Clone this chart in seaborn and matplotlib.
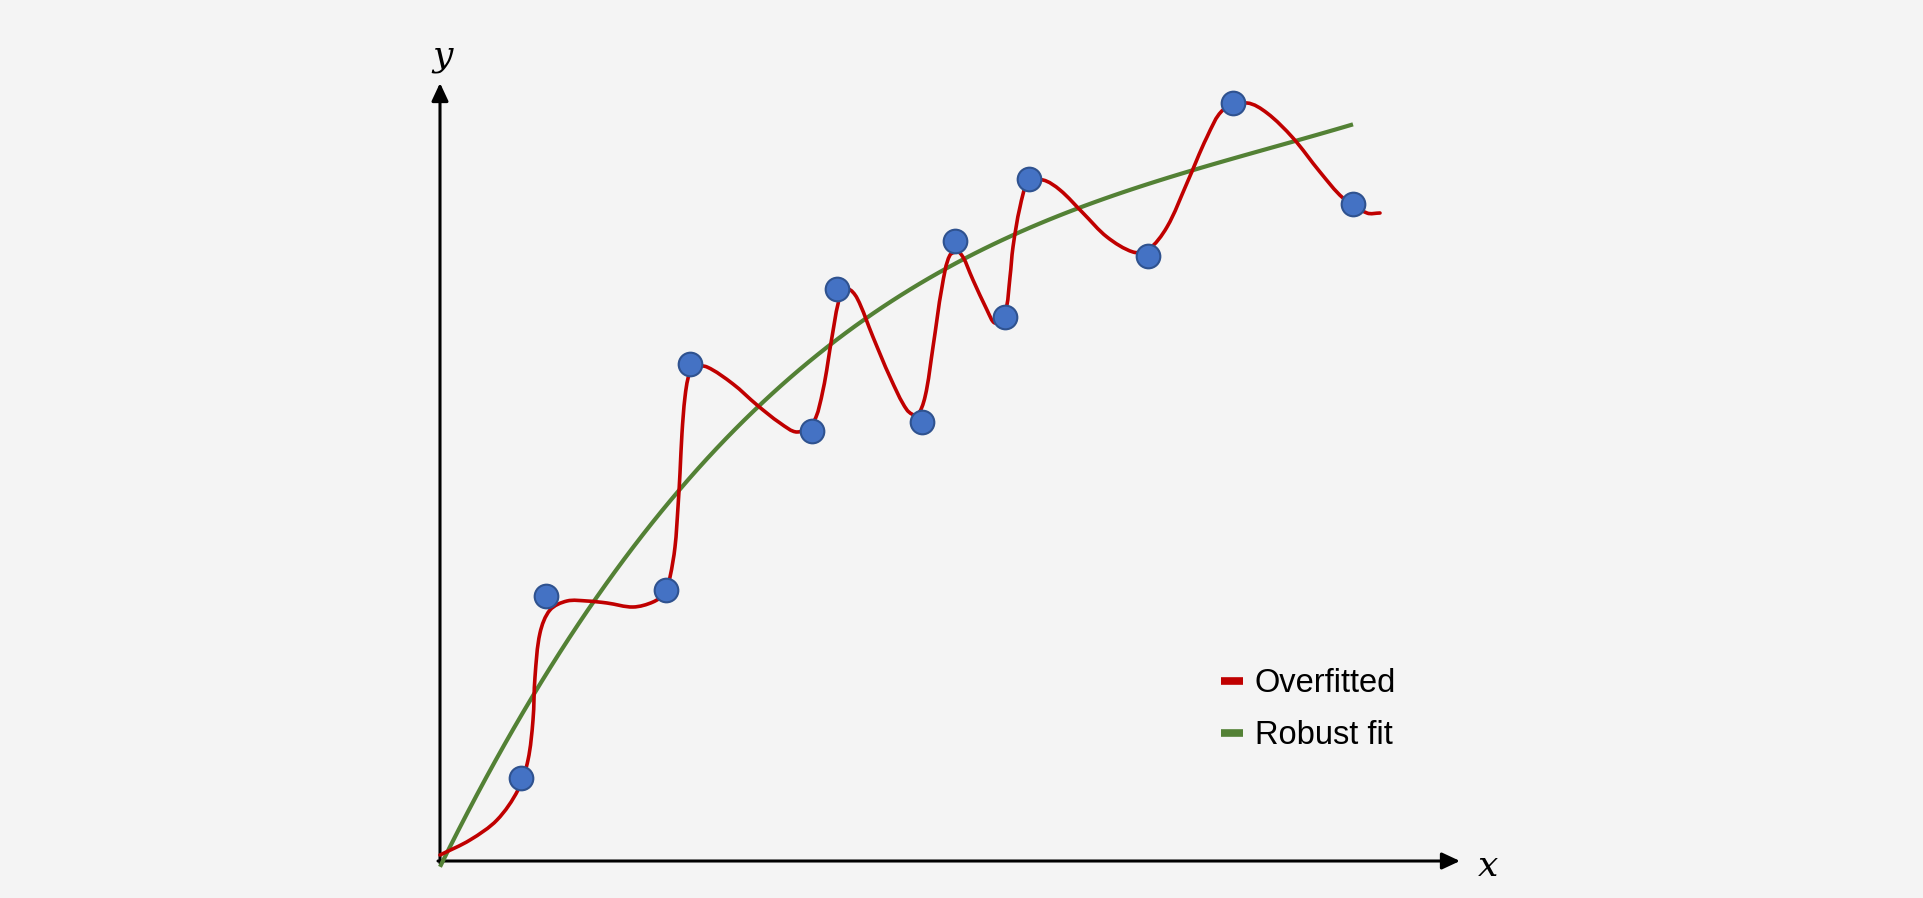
import matplotlib
matplotlib.use("Agg")
import matplotlib.pyplot as plt
from matplotlib.lines import Line2D
from matplotlib.path import Path
from matplotlib.patches import PathPatch
import numpy as np
import seaborn as sns
import pandas as pd

# ---- data (arbitrary units) ----
point_x = [0.81, 1.06, 2.26, 2.50, 3.72, 3.97, 4.82, 5.15, 5.65, 5.89, 7.08, 7.93, 9.13]
point_y = [0.83, 2.65, 2.71, 4.97, 4.30, 5.72, 4.39, 6.20, 5.44, 6.82, 6.05, 7.58, 6.57]

overfit_x = [0.00, 0.30, 0.57, 0.78, 0.88, 0.93, 0.95, 1.00, 1.10, 1.27, 1.47, 1.67, 1.93,
             2.13, 2.25, 2.30, 2.35, 2.38, 2.40, 2.42, 2.45, 2.49, 2.55, 2.67, 2.93, 3.17,
             3.40, 3.57, 3.73, 3.83, 3.92, 4.00, 4.08, 4.17, 4.33, 4.50, 4.67, 4.77, 4.85,
             4.93, 5.02, 5.10, 5.20, 5.33, 5.47, 5.55, 5.65, 5.70, 5.73, 5.80, 5.88, 6.03,
             6.20, 6.43, 6.67, 6.93, 7.08, 7.27, 7.47, 7.67, 7.83, 8.07, 8.27, 8.53, 8.80,
             9.03, 9.27, 9.40]
overfit_y = [0.06, 0.21, 0.41, 0.71, 1.01, 1.41, 1.84, 2.28, 2.51, 2.60, 2.60, 2.58, 2.54,
             2.59, 2.68, 2.84, 3.14, 3.54, 3.88, 4.28, 4.64, 4.86, 4.94, 4.94, 4.77, 4.56,
             4.38, 4.29, 4.38, 4.71, 5.24, 5.64, 5.72, 5.63, 5.24, 4.84, 4.51, 4.46, 4.64,
             5.14, 5.74, 6.06, 6.08, 5.81, 5.51, 5.38, 5.48, 5.84, 6.14, 6.54, 6.78, 6.81,
             6.71, 6.48, 6.24, 6.09, 6.11, 6.34, 6.78, 7.24, 7.51, 7.58, 7.48, 7.23, 6.89,
             6.63, 6.48, 6.48]

robust_x = [0.00, 0.40, 0.90, 1.40, 1.87, 2.40, 3.17, 3.93, 4.27, 5.00, 5.67, 6.27, 7.50, 8.53, 9.13]
robust_y = [0.00, 0.71, 1.58, 2.34, 3.01, 3.71, 4.58, 5.24, 5.46, 5.91, 6.21, 6.45, 6.86, 7.21, 7.38]

x_axis_end = 10.20
y_axis_end = 7.78
legend_labels = ["Overfitted", "Robust fit"]
axis_labels = ["x", "y"]

# ---- style ----
BG = "#F4F4F4"
RED = "#C00000"
GREEN = "#538135"
BLUE = "#4472C4"
BLUE_EDGE = "#2F528F"

sns.set_theme(style="white")
plt.rcParams["font.family"] = ["Liberation Sans", "DejaVu Sans"]
plt.rcParams["text.color"] = "black"


def smooth_path(xs, ys):
    """Smooth drawing path (cubic Bezier segments) through the read vertices,
    tangents scaled by chord length so uneven spacing gives no kinks."""
    pts = np.column_stack([xs, ys]).astype(float)
    n = len(pts)
    d = np.linalg.norm(np.diff(pts, axis=0), axis=1)
    tang = np.zeros_like(pts)
    tang[0] = (pts[1] - pts[0]) / d[0]
    tang[-1] = (pts[-1] - pts[-2]) / d[-1]
    for i in range(1, n - 1):
        tang[i] = (pts[i + 1] - pts[i - 1]) / (d[i - 1] + d[i])
    verts = [pts[0]]
    codes = [Path.MOVETO]
    for i in range(n - 1):
        verts += [pts[i] + tang[i] * d[i] / 3.0,
                  pts[i + 1] - tang[i + 1] * d[i] / 3.0,
                  pts[i + 1]]
        codes += [Path.CURVE4] * 3
    return Path(verts, codes)


fig = plt.figure(figsize=(19.24, 8.98), dpi=100, facecolor=BG)
ax = fig.add_axes([0, 0, 1, 1])
ax.set_facecolor(BG)

df_over = pd.DataFrame({"x": overfit_x, "y": overfit_y})
df_rob = pd.DataFrame({"x": robust_x, "y": robust_y})
df_pts = pd.DataFrame({"x": point_x, "y": point_y})

# robust fit: smooth curve fitted by seaborn
sns.regplot(data=df_rob, x="x", y="y", order=3, ci=None, scatter=False, ax=ax,
            line_kws=dict(color=GREEN, lw=3.0, zorder=2, solid_capstyle="butt"))

# overfitted curve: smooth path through the read vertices
ax.add_patch(PathPatch(smooth_path(df_over["x"], df_over["y"]), fill=False,
                       edgecolor=RED, lw=2.6, zorder=2, capstyle="round",
                       joinstyle="round"))

sns.scatterplot(data=df_pts, x="x", y="y", s=290, color=BLUE, edgecolor=BLUE_EDGE,
                linewidth=1.5, ax=ax, zorder=3)

ax.set_xlim(-4.40, 14.84)
ax.set_ylim(-0.37, 8.61)
ax.axis("off")

# axes with arrows
arrow_style = "-|>,head_length=0.9,head_width=0.42"
ax.annotate("", xy=(x_axis_end, 0), xytext=(-0.02, 0),
            arrowprops=dict(arrowstyle=arrow_style, lw=2.2, color="black",
                            shrinkA=0, shrinkB=0), zorder=1)
ax.annotate("", xy=(0, y_axis_end), xytext=(0, -0.02),
            arrowprops=dict(arrowstyle=arrow_style, lw=2.2, color="black",
                            shrinkA=0, shrinkB=0), zorder=1)
ax.text(10.48, -0.05, axis_labels[0], family="DejaVu Serif", style="italic",
        fontsize=26, ha="center", va="center", color="black")
ax.text(0.03, 8.05, axis_labels[1], family="DejaVu Serif", style="italic",
        fontsize=26, ha="center", va="center", color="black")

handles = [Line2D([0], [0], color=RED, lw=5.5, solid_capstyle="butt"),
           Line2D([0], [0], color=GREEN, lw=5.5, solid_capstyle="butt")]
leg = fig.legend(handles, legend_labels, loc="upper left",
                 bbox_to_anchor=(1221 / 1924, 1 - 668 / 898), frameon=False,
                 fontsize=23.5, handlelength=0.68, handletextpad=0.36,
                 labelspacing=0.65, borderpad=0, borderaxespad=0)
for t in leg.get_texts():
    t.set_color("black")

fig.savefig("out.png", dpi=100, facecolor=BG)
